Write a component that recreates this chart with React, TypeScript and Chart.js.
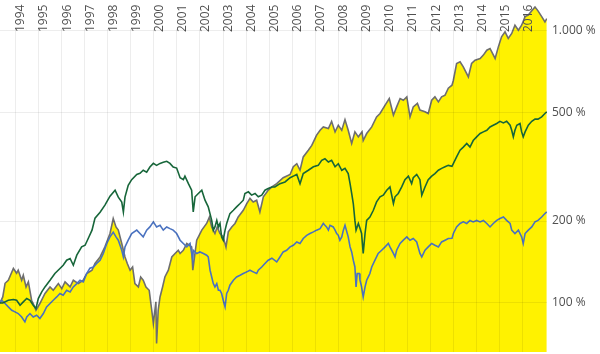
import React, { useEffect, useRef } from "react";
import { Chart, registerables } from "chart.js";

Chart.register(...registerables);

const grayYears = [1993.35,1993.47,1993.57,1993.71,1993.93,1994.07,1994.14,1994.29,1994.36,1994.48,1994.58,1994.72,1994.79,1994.91,1995.08,1995.30,1995.52,1995.66,1995.88,1996.03,1996.17,1996.39,1996.53,1996.75,1996.96,1997.11,1997.34,1997.47,1997.69,1997.90,1998.12,1998.26,1998.38,1998.48,1998.63,1998.77,1998.87,1998.99,1999.10,1999.20,1999.35,1999.45,1999.56,1999.68,1999.82,1999.93,2000.00,2000.11,2000.14,2000.21,2000.29,2000.40,2000.50,2000.65,2000.80,2000.94,2001.08,2001.16,2001.30,2001.45,2001.66,2001.71,2001.88,2002.10,2002.31,2002.43,2002.53,2002.67,2002.77,2002.89,2003.03,2003.15,2003.25,2003.40,2003.54,2003.68,2003.90,2004.05,2004.19,2004.33,2004.48,2004.62,2004.77,2004.98,2005.14,2005.35,2005.63,2005.93,2006.07,2006.22,2006.36,2006.50,2006.72,2006.87,2007.08,2007.23,2007.37,2007.59,2007.73,2007.88,2008.02,2008.17,2008.31,2008.45,2008.60,2008.74,2008.89,2009.05,2009.10,2009.25,2009.47,2009.68,2009.83,2010.05,2010.23,2010.41,2010.55,2010.70,2010.84,2010.99,2011.13,2011.27,2011.45,2011.56,2011.78,2011.92,2012.07,2012.21,2012.36,2012.50,2012.65,2012.79,2012.95,2013.01,2013.15,2013.30,2013.44,2013.66,2013.80,2013.95,2014.17,2014.31,2014.46,2014.60,2014.82,2014.96,2015.10,2015.25,2015.39,2015.54,2015.68,2015.83,2015.97,2016.12,2016.26,2016.41,2016.55,2016.68,2016.84,2016.98,2017.06];
const grayValues = [100,105.2,118.1,121.2,133.9,128.6,131.9,121.2,126.4,114.5,119.5,102.3,99.5,94,99.5,108.3,114.5,111.3,117.8,112.9,119.5,114.5,121.2,117.8,121.2,128.3,131.9,139.6,147.6,160.7,180,204.4,190.3,185.2,165.4,147.6,139.6,131.9,135.6,117.8,114.5,124.6,121.2,114.5,111.3,94,84,100.9,70.9,94,105.2,114.5,124.6,131.9,147.6,152,156.2,152,156.2,165.4,160.7,131.9,170.1,185.2,196,207,190.3,180,190.3,180,174.9,160.3,182.5,190.3,196,207,219.1,232,242.3,235.2,238.6,216,245.6,259.7,267,274.5,288.6,296.8,316.8,325,307.5,344.3,364.3,379.6,414,431.6,443.8,437.9,465.3,425.6,450.2,431.6,472.1,431.6,385.6,425.6,408.1,425.6,395.4,419.7,443.8,483.2,497.2,533.5,564.6,490.1,525.8,564.6,556.5,572.5,483.2,525.8,541.4,512,504.6,497.2,556.5,572.5,548.5,572.5,580.9,616.2,631.8,658.8,759.3,769.8,737.6,677.6,759.3,781,792.6,815.3,850,862.4,792.6,874.2,952.1,992.5,939.2,979,1050,1006,1050,1129,1145,1186,1226,1186,1129,1079,1111];

const greenYears = [1993.35,1993.47,1993.71,1993.93,1994.07,1994.22,1994.36,1994.51,1994.65,1994.79,1994.91,1995.01,1995.16,1995.30,1995.52,1995.73,1995.95,1996.09,1996.24,1996.39,1996.53,1996.68,1996.89,1997.04,1997.18,1997.34,1997.47,1997.69,1997.90,1998.12,1998.34,1998.48,1998.63,1998.70,1998.77,1998.91,1999.06,1999.28,1999.42,1999.56,1999.71,1999.85,2000.00,2000.14,2000.29,2000.43,2000.58,2000.72,2000.86,2001.01,2001.16,2001.30,2001.37,2001.52,2001.66,2001.73,2001.81,2001.95,2002.10,2002.24,2002.38,2002.53,2002.60,2002.67,2002.75,2002.82,2002.89,2002.96,2003.03,2003.11,2003.18,2003.32,2003.47,2003.61,2003.76,2003.90,2003.97,2004.12,2004.26,2004.41,2004.55,2004.70,2004.84,2004.98,2005.14,2005.27,2005.49,2005.71,2005.93,2006.07,2006.22,2006.36,2006.50,2006.72,2006.94,2007.15,2007.30,2007.44,2007.59,2007.73,2007.88,2008.02,2008.17,2008.31,2008.45,2008.53,2008.60,2008.67,2008.74,2008.79,2008.89,2008.96,2009.03,2009.10,2009.18,2009.25,2009.39,2009.54,2009.68,2009.83,2009.97,2010.12,2010.26,2010.41,2010.48,2010.62,2010.77,2010.91,2011.06,2011.20,2011.27,2011.42,2011.56,2011.64,2011.78,2011.92,2012.07,2012.21,2012.36,2012.50,2012.65,2012.79,2012.95,2013.15,2013.30,2013.44,2013.59,2013.73,2013.87,2014.02,2014.17,2014.31,2014.46,2014.60,2014.74,2014.89,2015.03,2015.18,2015.32,2015.47,2015.54,2015.61,2015.68,2015.76,2015.90,2015.97,2016.04,2016.12,2016.26,2016.41,2016.55,2016.68,2016.84,2016.98,2017.06];
const greenValues = [100,100,102.3,102.9,102.3,98.1,100.9,103.8,102.3,98.1,95.4,103.8,109.8,114.5,121.2,128.3,133.9,137.6,143.6,145.7,137.6,149.8,160.7,163,172.9,185.2,205,215.5,228.9,247,259.7,244.9,234.8,216,244.9,270.9,283.9,296.8,299.8,307.5,302.4,315.9,326,320.5,326,328.8,331.6,326,315.9,313.3,288.8,283.9,292.6,274.5,259.7,216,245.6,252.6,259.7,238.6,225.6,201.1,185.2,190.3,201.1,190.3,196,174.9,170.1,185.2,196,213.1,219.1,225.6,232,238.6,252.6,256.2,249.1,252.6,245.6,249.1,259.7,263.4,267,267,274.5,278.6,288.6,292.6,296.8,274.5,299.1,307.5,316.8,320.5,334.4,339.2,329.6,334.4,316.8,325,307.5,312.5,299.1,274.5,252.6,232,201.1,185.2,196,188.3,180,152,180,201.1,207,219.1,235.2,245.6,249.1,259.7,267,232,245.6,252.6,267,283.9,292.6,274.5,288.6,296.8,283.9,249.1,267,283.9,292.6,299.1,307.5,312.5,316.8,320.5,317.8,344.3,364.3,374.1,385.6,374.1,395.4,408.1,419.7,425.6,431.6,443.8,450.2,456.8,465.3,459.1,465.3,450.2,431.6,408.1,431.6,450.2,456.8,425.6,408.1,425.6,450.2,465.3,474.3,474.3,483.2,497.2,504.6];

const blueYears = [1993.35,1993.42,1993.57,1993.71,1993.86,1994.00,1994.14,1994.29,1994.43,1994.51,1994.65,1994.79,1994.94,1995.08,1995.23,1995.37,1995.52,1995.66,1995.81,1995.95,1996.09,1996.24,1996.39,1996.53,1996.68,1996.82,1996.96,1997.11,1997.25,1997.40,1997.54,1997.69,1997.83,1997.98,1998.12,1998.26,1998.38,1998.48,1998.63,1998.70,1998.77,1998.91,1999.06,1999.28,1999.42,1999.56,1999.71,1999.85,2000.00,2000.14,2000.29,2000.43,2000.58,2000.72,2000.86,2001.01,2001.16,2001.30,2001.45,2001.59,2001.71,2001.73,2001.88,2002.02,2002.17,2002.31,2002.38,2002.46,2002.53,2002.60,2002.67,2002.75,2002.82,2002.89,2002.96,2003.03,2003.11,2003.18,2003.25,2003.32,2003.47,2003.61,2003.76,2003.90,2004.05,2004.19,2004.33,2004.48,2004.55,2004.70,2004.84,2004.98,2005.14,2005.35,2005.49,2005.63,2005.78,2005.93,2006.07,2006.22,2006.36,2006.50,2006.65,2006.79,2006.94,2007.08,2007.23,2007.37,2007.44,2007.51,2007.59,2007.66,2007.80,2007.88,2007.95,2008.02,2008.09,2008.17,2008.24,2008.31,2008.45,2008.53,2008.60,2008.67,2008.74,2008.79,2008.84,2008.93,2008.96,2009.03,2009.10,2009.18,2009.25,2009.32,2009.39,2009.47,2009.61,2009.75,2009.90,2010.05,2010.19,2010.26,2010.41,2010.48,2010.55,2010.70,2010.84,2010.99,2011.13,2011.27,2011.42,2011.56,2011.64,2011.78,2011.92,2012.07,2012.21,2012.36,2012.50,2012.65,2012.79,2012.95,2013.01,2013.15,2013.30,2013.44,2013.59,2013.73,2013.87,2014.02,2014.17,2014.31,2014.46,2014.60,2014.74,2014.89,2015.03,2015.18,2015.32,2015.47,2015.54,2015.68,2015.83,2015.97,2016.04,2016.12,2016.26,2016.41,2016.55,2016.68,2016.84,2016.98,2017.06];
const blueValues = [100,102.3,99.5,96.7,94,92.7,91.4,88.8,85.2,88.8,91.4,88.8,90.1,87.6,91.4,96.7,99.5,102.3,105.2,108.3,106.7,111.3,109.8,114.5,117.8,121.2,119.5,128.3,134.2,135.6,139.6,143.6,152,165.4,174.9,182,174.9,170.1,156.2,147.6,160.7,170.1,180,185.2,180,174.9,185.2,190.3,198.6,190.3,193,185.2,190.3,187.6,185.2,180,170.1,165.4,160.7,165.4,143.6,156.2,152,154,152,149.8,147.6,131.9,124.6,117.8,114.5,117.8,111.3,111.3,108.3,102.3,96.7,108.3,111.3,116.2,121.2,124.6,126.4,128.3,130.1,131.9,130.1,128.3,131.9,135.6,139.6,143.6,146,141.5,147.6,154,156.2,160.7,163,167.6,165.4,172.5,177.3,180,182.5,185.2,187.6,196,193,190.3,185.2,193,190.3,185.2,180,177.3,170.1,174.9,185.2,193,174.9,160.7,154,143.6,135.6,114.5,128.3,128.3,121.2,114.5,105.2,114.5,121.2,124.6,128.3,135.6,143.6,152,156.2,160.7,165.4,160.7,152,147.6,156.2,165.4,170.1,174.9,170.1,172.5,167.6,152,147.6,156.2,160.7,165.4,163,160.7,167.6,170.1,172.5,172.9,180,190.3,196,198.6,196,201.1,198.6,201.1,198.6,201.1,196,190.3,196,201.1,204.4,207,201.1,196,185.2,180,185.2,174.9,165.4,180,185.2,190.3,198.6,201.1,207,213.1,216];

const xTickYears = [1994,1995,1996,1997,1998,1999,2000,2001,2002,2003,2004,2005,2006,2007,2008,2009,2010,2011,2012,2013,2014,2015,2016];
const yTickValues = [100, 200, 500, 1000];
const yTickLabels = ["100 %", "200 %", "500 %", "1.000 %"];

function toPoints(xs: number[], ys: number[]) {
  return xs.map((x, i) => ({ x, y: ys[i] }));
}

function zeroPadding(s: any) {
  s.paddingLeft = 0;
  s.paddingRight = 0;
  s.paddingTop = 0;
  s.paddingBottom = 0;
}

// vertical year grid lines, drawn from the x scale's tick pixels, starting below the label band
const yearGridPlugin = {
  id: "yearGrid",
  afterDatasetsDraw(chart: any) {
    const xs = chart.scales.x;
    const area = chart.chartArea;
    const ctx = chart.ctx;
    ctx.save();
    ctx.strokeStyle = "rgba(0,0,0,0.07)";
    ctx.lineWidth = 1;
    xs.ticks.forEach((t: any) => {
      const px = Math.round(xs.getPixelForValue(t.value)) + 0.5;
      ctx.beginPath();
      ctx.moveTo(px, area.top + 29);
      ctx.lineTo(px, area.bottom);
      ctx.stroke();
    });
    ctx.restore();
  },
};

export default function App() {
  const ref = useRef<HTMLCanvasElement>(null);
  useEffect(() => {
    document.body.style.margin = "0";
    const chart = new Chart(ref.current as HTMLCanvasElement, {
      type: "line",
      data: {
        datasets: [
          { label: "Green", data: toPoints(greenYears, greenValues), borderColor: "#17663a", borderWidth: 1.6, pointRadius: 0, fill: false, tension: 0 },
          { label: "Blue", data: toPoints(blueYears, blueValues), borderColor: "#4a72c0", borderWidth: 1.6, pointRadius: 0, fill: false, tension: 0 },
          { label: "Gray", data: toPoints(grayYears, grayValues), borderColor: "#6e6e6e", backgroundColor: "#fff200", borderWidth: 1.6, pointRadius: 0, fill: "start", tension: 0 },
        ],
      },
      options: {
        animation: false,
        responsive: true,
        maintainAspectRatio: false,
        layout: { padding: { top: 0, left: 0, right: 0, bottom: 2 } },
        plugins: { legend: { display: false }, tooltip: { enabled: false } },
        scales: {
          x: {
            type: "linear",
            position: "top",
            min: 1993.35,
            max: 2017.07,
            grid: { display: false, drawTicks: false },
            border: { display: false },
            ticks: {
              z: 1,
              mirror: true,
              padding: 32,
              minRotation: 90,
              maxRotation: 90,
              autoSkip: false,
              labelOffset: 6,
              color: "#505050",
              font: { family: "'Open Sans'", size: 12 },
              callback: (v: any) => String(v),
            },
            afterBuildTicks: (s: any) => {
              s.ticks = xTickYears.map((v) => ({ value: v }));
            },
            afterFit: (s: any) => {
              s.height = 0;
              zeroPadding(s);
            },
          },
          y: {
            type: "logarithmic",
            position: "right",
            min: 66,
            max: 1300,
            grid: { color: "rgba(0,0,0,0.07)", drawTicks: false, z: 1 },
            border: { display: false },
            ticks: {
              padding: 5,
              color: "#505050",
              font: { family: "'Open Sans'", size: 12 },
              callback: (v: any) => {
                const i = yTickValues.indexOf(Number(v));
                return i >= 0 ? yTickLabels[i] : "";
              },
            },
            afterBuildTicks: (s: any) => {
              s.ticks = yTickValues.map((v) => ({ value: v }));
            },
            afterFit: (s: any) => {
              s.width = 53;
              zeroPadding(s);
            },
          },
        },
      },
      plugins: [yearGridPlugin],
    });
    return () => chart.destroy();
  }, []);
  return (
    <div style={{ width: 600, height: 354, position: "relative" }}>
      <canvas ref={ref} />
    </div>
  );
}
